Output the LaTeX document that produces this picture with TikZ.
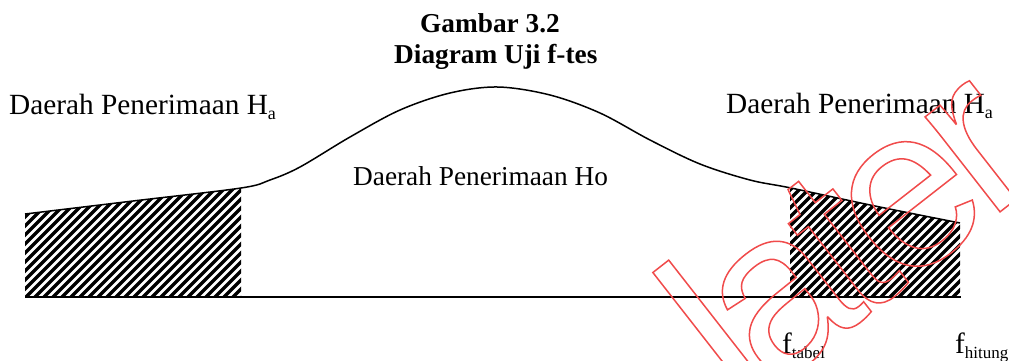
\documentclass[tikz,border=0pt]{standalone}
\usepackage{fontspec}
\setmainfont{Liberation Serif}
\newfontfamily\wmfont{Liberation Sans}
\definecolor{wmred}{RGB}{240,75,75}
\newcommand\sbx[2]{\raisebox{-0.2em}{\fontsize{#1}{#1}\selectfont #2}}
\begin{document}
\begin{tikzpicture}[x=1pt,y=-1pt,
  lbl/.style={inner sep=0pt, anchor=base west, font=\fontsize{29.3}{30}\selectfont},
  holbl/.style={inner sep=0pt, anchor=base west, font=\fontsize{27.3}{28}\selectfont},
  ttl/.style={inner sep=0pt, anchor=base west, font=\bfseries\fontsize{27.3}{28}\selectfont},
  curve/.style={line width=1.5pt, line join=round},
  baseln/.style={line width=2pt},
  hatch/.style={line width=3.4pt},
  wm/.style={inner sep=0pt, anchor=base west, text=wmred, font=\wmfont\fontsize{229}{229}\selectfont}]
\useasboundingbox (0,0) rectangle (1009,360);
% hatched regions
\begin{scope}
\clip (25,297) -- plot[smooth,tension=0.55] coordinates {(25,214) (133,201) (241,188) (270,180) (300,167) (350,137) (400,110) (450,93) (498,87) (550,95) (600,113) (650,140) (700,164) (750,180) (791,188) (875,206) (960,223)} -- (960,297) -- cycle;
\clip (25,140) rectangle (241,297) (790,140) rectangle (961,297);
\foreach \i in {-30,...,120} \draw[hatch] (\i*9,305) -- ++(220,-220);
\end{scope}
% curve and baseline
\draw[curve] plot[smooth,tension=0.55] coordinates {(25,214) (133,201) (241,188) (270,180) (300,167) (350,137) (400,110) (450,93) (498,87) (550,95) (600,113) (650,140) (700,164) (750,180) (791,188) (875,206) (960,223)};
\coordinate (bl) at (25,297);
\coordinate (br) at (961,297);
\draw[baseln] (bl) -- (br);
% texts
\node[ttl] (t1) at (420,32) {Gambar 3.2};
\node[ttl] (t2) at (394,63) {Diagram Uji f-tes};
\node[lbl] (haL) at (9,114) {Daerah Penerimaan H\sbx{18}{a}};
\node[lbl] (haR) at (726,113) {Daerah Penerimaan H\sbx{18}{a}};
\node[holbl] (ho) at (353,185) {Daerah Penerimaan Ho};
\node[lbl] (ftab) at (782,353) {f\sbx{17}{tabel}};
\node[lbl] (fhit) at (955,353) {f\sbx{17}{hitung}};
% watermark
\node[wm, rotate=38] (wmk) at (742.7,412.9) {\special{pdf:literal direct 1 Tr 1.5 w}l\kern-14.7pt a\kern-14.7pt t\kern-14.7pt e\kern-14.7pt r\special{pdf:literal direct 0 Tr}};
\end{tikzpicture}
\end{document}
